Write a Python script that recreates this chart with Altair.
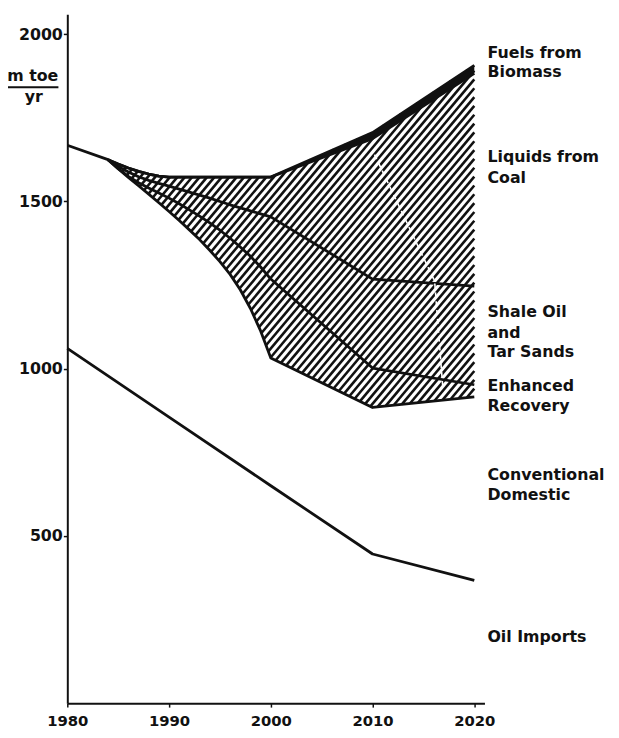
import numpy as np
import pandas as pd
import altair as alt

# ---------------- data (m toe / yr) ----------------
lead_years = [1980, 1984]
lead_values = [1668, 1625]

band_years = [1984, 1985, 1986, 1987, 1988, 1989, 1990, 1991, 1992, 1993, 1994,
              1995, 1996, 1997, 1998, 1999, 2000, 2010, 2020]
total_supply = [1625, 1612, 1600, 1590, 1582, 1576, 1573, 1573, 1573, 1573, 1573,
                1573, 1573, 1573, 1573, 1573, 1573, 1706, 1907]
coal_top = [1625, 1612, 1600, 1590, 1582, 1576, 1573, 1573, 1573, 1573, 1573,
            1573, 1573, 1573, 1573, 1573, 1573, 1688, 1883]
shale_top = [1625, 1605, 1588, 1574, 1563, 1554, 1546, 1537, 1528, 1519, 1510,
             1500, 1490, 1481, 1472, 1463, 1454, 1268, 1247]
enhanced_top = [1625, 1598, 1575, 1556, 1540, 1525, 1510, 1493, 1475, 1456, 1436,
                1414, 1390, 1364, 1336, 1304, 1268, 1002, 952]
enhanced_bottom = [1625, 1598, 1572, 1547, 1522, 1496, 1470, 1443, 1415, 1386, 1354,
                   1320, 1282, 1236, 1180, 1113, 1032, 884, 916]

conv_years = [1980, 1990, 2000, 2010, 2020]
conventional = [1061, 855, 650, 446, 367]

x_ticks = [1980, 1990, 2000, 2010, 2020]
y_ticks = [500, 1000, 1500, 2000]

label_lines = ["Fuels from", "Biomass", "Liquids from", "Coal",
               "Shale Oil", "and", "Tar Sands", "Enhanced", "Recovery",
               "Conventional", "Domestic", "Oil Imports"]
label_levels = [1945, 1886, 1632, 1570, 1168, 1108, 1049, 949, 887, 683, 621, 198]

scan_years = [2010.2, 2016.1, 2016.9]
scan_values = [1640, 1262, 946]

# ---------------- layout ----------------
W, H = 422, 697
X_DOM = [1980, 2021]
Y_DOM = [0, 2060]
FONT = "DejaVu Sans"
INK = "#111111"

# ---------------- tables ----------------
rows = []
rows += [("total", y, v) for y, v in zip(lead_years + band_years[1:], lead_values + total_supply[1:])]
rows += [("coal", y, v) for y, v in zip(band_years, coal_top)]
rows += [("shale", y, v) for y, v in zip(band_years, shale_top)]
rows += [("enhanced", y, v) for y, v in zip(band_years, enhanced_top)]
rows += [("bottom", y, v) for y, v in zip(band_years, enhanced_bottom)]
rows += [("conventional", y, v) for y, v in zip(conv_years, conventional)]
df_lines = pd.DataFrame(rows, columns=["series", "year", "value"])

df_wedge = pd.DataFrame({"year": band_years, "top": total_supply, "low": coal_top})

# hatch lines (diagonal, clipped to the region between total and bottom boundary)
px_per_year = W / (X_DOM[1] - X_DOM[0])
px_per_unit = H / (Y_DOM[1] - Y_DOM[0])
pix_slope = np.tan(np.radians(50))
data_slope = pix_slope * px_per_year / px_per_unit
spacing = 7.5 / px_per_year
t = np.linspace(band_years[0], band_years[-1], 7201)
top_i = np.interp(t, band_years, total_supply)
bot_i = np.interp(t, band_years, enhanced_bottom)
c_min = band_years[0] - max(total_supply) / data_slope
c_max = band_years[-1] - min(enhanced_bottom) / data_slope
hatch = []
for c in np.arange(c_min, c_max, spacing):
    v = data_slope * (t - c)
    inside = (v >= bot_i) & (v <= top_i)
    edges = np.flatnonzero(np.diff(np.concatenate([[0], inside.astype(int), [0]])))
    for s, e in zip(edges[::2], edges[1::2]):
        if e - 1 > s:
            hatch.append((t[s], v[s], t[e - 1], v[e - 1]))
df_hatch = pd.DataFrame(hatch, columns=["x", "y", "x2", "y2"])

df_labels = pd.DataFrame({"text": label_lines, "value": label_levels})
df_scan = pd.DataFrame({"year": scan_years, "value": scan_values})

# ---------------- encodings ----------------
x_axis = alt.Axis(values=x_ticks, format="d", title=None, grid=False,
                  domainColor=INK, domainWidth=2, tickColor=INK, tickWidth=1.5,
                  tickSize=4, labelFont=FONT, labelFontSize=15, labelFontWeight="bold",
                  labelColor=INK, labelPadding=7, labelFlush=False, zindex=1)
y_axis = alt.Axis(values=y_ticks, format="d", title=None, grid=False,
                  domainColor=INK, domainWidth=2, tickColor=INK, tickWidth=1.5,
                  tickSize=4, labelFont=FONT, labelFontSize=16, labelFontWeight="bold",
                  labelColor=INK, labelPadding=1, labelFlush=False, zindex=1)
x_scale = alt.Scale(domain=X_DOM, nice=False, zero=False)
y_scale = alt.Scale(domain=Y_DOM, nice=False)


def X(f):
    return alt.X(f, type="quantitative", scale=x_scale, axis=x_axis)


def Y(f):
    return alt.Y(f, type="quantitative", scale=y_scale, axis=y_axis)


hatch_layer = alt.Chart(df_hatch).mark_rule(color=INK, strokeWidth=2.6).encode(
    x=X("x"), y=Y("y"), x2="x2:Q", y2="y2:Q")

wedge_layer = alt.Chart(df_wedge).mark_area(color=INK).encode(
    x=X("year"), y=Y("top"), y2="low:Q")

line_layer = alt.Chart(df_lines).mark_line(color=INK, strokeWidth=2.8, strokeJoin="round").encode(
    x=X("year"), y=Y("value"), detail="series:N", order="year:Q")

scan_layer = alt.Chart(df_scan).mark_line(color="white", strokeWidth=1.6, strokeDash=[5, 4]).encode(
    x=X("year"), y=Y("value"))

label_layer = alt.Chart(df_labels).mark_text(
    align="left", baseline="middle", font=FONT, fontSize=16, fontWeight="bold", color=INK
).encode(x=alt.value(425), y=Y("value"), text="text:N")

unit_df = pd.DataFrame({"text": ["m toe", "yr"], "py": [63, 84], "px": [-35, -34]})
unit_text = alt.Chart(unit_df).mark_text(
    align="center", baseline="middle", font=FONT, fontSize=16, fontWeight="bold", color=INK
).encode(x=alt.X("px:Q", scale=None), y=alt.Y("py:Q", scale=None), text="text:N")

unit_rule = alt.Chart(pd.DataFrame({"a": [0]})).mark_rule(color=INK, strokeWidth=2).encode(
    x=alt.value(-61), x2=alt.value(-9), y=alt.value(74))

chart = alt.layer(
    hatch_layer, wedge_layer, line_layer, scan_layer, label_layer, unit_text, unit_rule
).properties(
    width=W, height=H,
    autosize=alt.AutoSizeParams(type="none"),
    padding={"left": 60, "top": 2, "right": 128, "bottom": 30},
    background="white",
).configure_view(stroke=None)

chart.save("out.html", embed_options={"renderer": "svg", "actions": False})
